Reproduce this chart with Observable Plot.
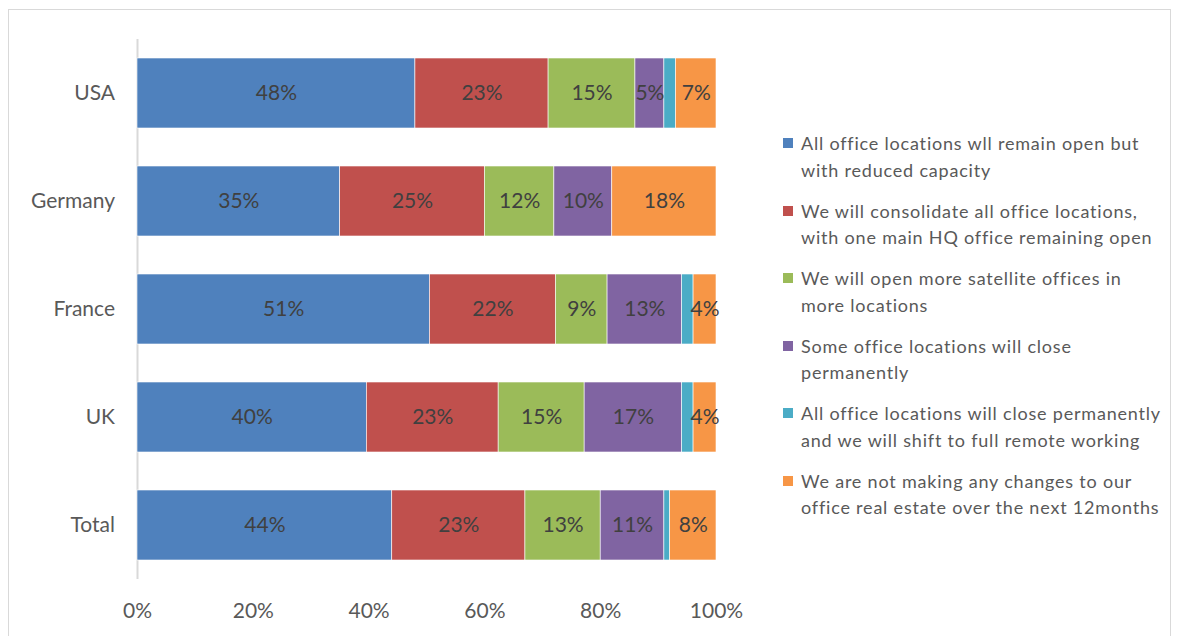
<!DOCTYPE html>
<html>
<head>
<meta charset="utf-8">
<script src="https://cdn.jsdelivr.net/npm/d3@7"></script>
<script src="https://cdn.jsdelivr.net/npm/@observablehq/plot@0.6"></script>
<style>
  html, body { margin: 0; padding: 0; background: #fff; }
  body { width: 1181px; height: 636px; position: relative; overflow: hidden; font-family: Lato, "Open Sans", sans-serif; }
  #frame { position: absolute; left: 8px; top: 9px; width: 1163px; height: 700px; border: 1px solid #d9d9d9; box-sizing: border-box; pointer-events: none; }
  #chart { position: absolute; left: 0; top: 0; }
  #legend { position: absolute; left: 783px; top: 130px; width: 398px; color: #595959; font-size: 18px; line-height: 26.5px; letter-spacing: 0.8px; white-space: nowrap; }
  .item { position: relative; padding-left: 18px; height: 53px; margin-bottom: 14.6px; }
  .sw { position: absolute; left: 0; top: 8px; width: 10px; height: 10px; }
</style>
</head>
<body>
<div id="frame"></div>
<div id="chart"></div>
<div id="legend"></div>
<script>
const countries = ["USA", "Germany", "France", "UK", "Total"];
const seriesNames = [
  "All office locations wll remain open but with reduced capacity",
  "We will consolidate all office locations, with one main HQ office remaining open",
  "We will open more satellite offices in more locations",
  "Some office locations will close permanently",
  "All office locations will close permanently and we will shift to full remote working",
  "We are not making any changes to our office real estate over the next 12months"
];
const legendLines = [
  ["All office locations wll remain open but", "with reduced capacity"],
  ["We will consolidate all office locations,", "with one main HQ office remaining open"],
  ["We will open more satellite offices in", "more locations"],
  ["Some office locations will close", "permanently"],
  ["All office locations will close permanently", "and we will shift to full remote working"],
  ["We are not making any changes to our", "office real estate over the next 12months"]
];
const colors = ["#4F81BD", "#C0504D", "#9BBB59", "#8064A2", "#4BACC6", "#F79646"];
const reducedCapacity = [48, 35, 51, 40, 44];
const consolidate     = [23, 25, 22, 23, 23];
const moreSatellite   = [15, 12, 9, 15, 13];
const someClose       = [5, 10, 13, 17, 11];
const allClose        = [2, 0, 2, 2, 1];
const noChanges       = [7, 18, 4, 4, 8];
const xTicks = [0, 0.2, 0.4, 0.6, 0.8, 1];

const seriesValues = [reducedCapacity, consolidate, moreSatellite, someClose, allClose, noChanges];
const showLabel = [true, true, true, true, false, true];
const data = [];
seriesNames.forEach((s, i) => {
  countries.forEach((c, j) => {
    data.push({country: c, series: s, value: seriesValues[i][j], show: showLabel[i]});
  });
});

const chart = Plot.plot({
  width: 1181,
  height: 636,
  marginLeft: 137,
  marginRight: 465,
  marginTop: 39,
  marginBottom: 57,
  style: {fontFamily: "Lato, 'Open Sans', sans-serif", background: "transparent", overflow: "visible"},
  x: {domain: [0, 1], label: null},
  y: {domain: countries, paddingInner: 0.352, paddingOuter: 0.176, label: null},
  color: {domain: seriesNames, range: colors},
  marks: [
    Plot.ruleX([0], {stroke: "#d9d9d9", strokeWidth: 2}),
    Plot.barX(data, Plot.stackX({
      x: "value", y: "country", fill: "series", z: "series",
      order: seriesNames, offset: "normalize",
      stroke: "white", strokeWidth: 0.6
    })),
    Plot.text(data, Plot.stackX({
      x: "value", y: "country", z: "series",
      order: seriesNames, offset: "normalize",
      text: d => (d.show && d.value > 0) ? d.value + "%" : "",
      fill: "#404040", fontSize: 21
    })),
    Plot.axisX({ticks: xTicks, tickFormat: d => Math.round(d * 100) + "%", tickSize: 0, tickPadding: 23.5, fontSize: 21, fill: "#595959", label: null}),
    Plot.axisY({tickSize: 0, tickPadding: 22.5, fontSize: 21, fill: "#595959", label: null, style: "letter-spacing: 1.6px"})
  ]
});
document.getElementById("chart").appendChild(chart);

const legend = document.getElementById("legend");
legendLines.forEach((lines, i) => {
  const item = document.createElement("div");
  item.className = "item";
  const sw = document.createElement("div");
  sw.className = "sw";
  sw.style.background = colors[i];
  item.appendChild(sw);
  lines.forEach(t => {
    const l = document.createElement("div");
    l.textContent = t;
    item.appendChild(l);
  });
  legend.appendChild(item);
});
</script>
</body>
</html>
